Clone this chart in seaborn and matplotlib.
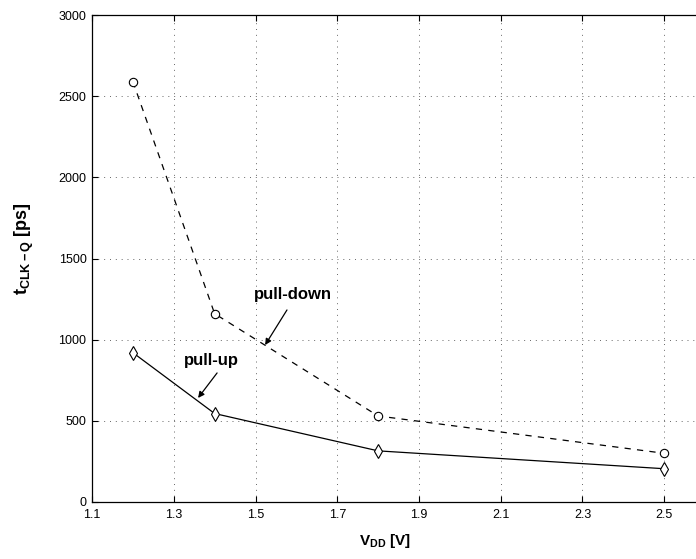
import matplotlib
matplotlib.use("Agg")
import matplotlib.pyplot as plt
import seaborn as sns
import pandas as pd

# Supply voltage sweep and clock-to-Q delays
vdd = [1.2, 1.4, 1.8, 2.5]
pull_down = [2590, 1160, 530, 300]
pull_up = [920, 545, 315, 205]

x_ticks = [1.1, 1.3, 1.5, 1.7, 1.9, 2.1, 2.3, 2.5]
x_tick_labels = ["1.1", "1.3", "1.5", "1.7", "1.9", "2.1", "2.3", "2.5"]
y_ticks = [0, 500, 1000, 1500, 2000, 2500, 3000]

sns.set_style("ticks")
plt.rcParams["font.family"] = ["Liberation Sans", "DejaVu Sans"]
plt.rcParams["mathtext.fontset"] = "custom"
plt.rcParams["mathtext.rm"] = "Liberation Sans"
plt.rcParams["mathtext.bf"] = "Liberation Sans:bold"
plt.rcParams["mathtext.it"] = "Liberation Sans:italic"
plt.rcParams["text.color"] = "black"
plt.rcParams["axes.labelcolor"] = "black"
plt.rcParams["xtick.color"] = "black"
plt.rcParams["ytick.color"] = "black"

df = pd.DataFrame({"vdd": vdd, "pull_down": pull_down, "pull_up": pull_up})

fig = plt.figure(figsize=(6.96, 5.59), dpi=100)
ax = fig.add_axes([92 / 696, 57 / 559, 654 / 696, 487 / 559])

sns.lineplot(data=df, x="vdd", y="pull_down", ax=ax, color="black",
             linestyle=(0, (5, 5)), linewidth=0.9, marker="o", markersize=6,
             markerfacecolor="white", markeredgecolor="black",
             markeredgewidth=0.8)
sns.lineplot(data=df, x="vdd", y="pull_up", ax=ax, color="black",
             linestyle="-", linewidth=0.9, marker="d", markersize=7,
             markerfacecolor="white", markeredgecolor="black",
             markeredgewidth=0.8)

ax.set_xlim(1.1, 2.7)
ax.set_ylim(0, 3000)
ax.set_xticks(x_ticks)
ax.set_xticklabels(x_tick_labels)
ax.set_yticks(y_ticks)
ax.tick_params(direction="in", top=True, right=True, length=4, width=0.8,
               labelsize=9)
ax.tick_params(axis="x", pad=5)
ax.tick_params(axis="y", pad=4)
ax.grid(True, color="0.4", linestyle=(0, (1, 5)), linewidth=0.7)
for s in ax.spines.values():
    s.set_linewidth(0.9)
    s.set_color("black")

ax.set_xlabel(r"V$_{\mathbf{DD}}$ [V]", fontsize=11, fontweight="bold")
ax.set_ylabel(r"t$_{\mathbf{CLK-Q}}$ [ps]", fontsize=13, fontweight="bold")
ax.xaxis.set_label_coords(0.448, -0.062)
ax.yaxis.set_label_coords(-0.086, 0.52)

arrow = dict(arrowstyle="-|>", color="black", lw=0.9,
             mutation_scale=9, shrinkA=0, shrinkB=0)
ax.annotate("", xy=(1.5235, 967), xytext=(1.577, 1183), arrowprops=arrow)
ax.annotate("", xy=(1.3595, 641), xytext=(1.406, 795), arrowprops=arrow)
ax.text(1.592, 1281, "pull-down", fontsize=12, fontweight="bold",
        ha="center", va="center")
ax.text(1.391, 869, "pull-up", fontsize=12, fontweight="bold",
        ha="center", va="center")

fig.savefig("out.png", dpi=100)
